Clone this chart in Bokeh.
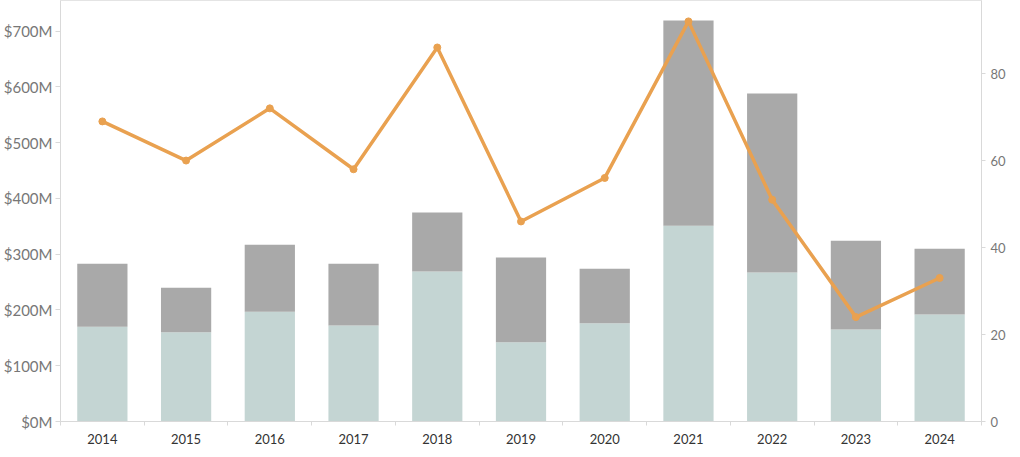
from bokeh.plotting import figure
from bokeh.models import Range1d, LinearAxis, FixedTicker, PrintfTickFormatter, ColumnDataSource
from bokeh.embed import file_html
from bokeh.resources import INLINE

years = [2014, 2015, 2016, 2017, 2018, 2019, 2020, 2021, 2022, 2023, 2024]
lower_m = [170, 160, 197, 172, 269, 142, 176, 351, 267, 165, 192]
upper_m = [113, 80, 120, 111, 106, 152, 98, 368, 321, 159, 118]
counts = [69, 60, 72, 58, 86, 46, 56, 92, 51, 24, 33]
left_ticks = [0, 100, 200, 300, 400, 500, 600, 700]
right_ticks = [0, 20, 40, 60, 80]

src = ColumnDataSource(dict(year=years, lower=lower_m, upper=upper_m, cnt=counts))

FONT = "Lato"
AXC = "#d9d9d9"

p = figure(frame_width=921, frame_height=421, output_backend="svg", toolbar_location=None,
           x_range=Range1d(2013.5, 2024.5), y_range=Range1d(0, 755),
           min_border_left=0, min_border_right=0, min_border_top=0, min_border_bottom=0)
p.extra_y_ranges = {"cnt": Range1d(0, 96.8)}
p.grid.visible = False
p.outline_line_color = "#e4e4e4"
p.background_fill_color = "white"
p.border_fill_color = "white"

p.vbar_stack(["lower", "upper"], x="year", width=0.6, color=["#c4d5d3", "#a9a9a9"],
             line_color=None, source=src)
p.line("year", "cnt", source=src, y_range_name="cnt", line_color="#e9a150", line_width=3.5)
p.scatter("year", "cnt", source=src, y_range_name="cnt", size=7, fill_color="#e9a150",
          line_color="#e9a150")

ra = LinearAxis(y_range_name="cnt")
p.add_layout(ra, "right")

la = p.left[0]
la.ticker = FixedTicker(ticks=left_ticks, minor_ticks=[])
la.formatter = PrintfTickFormatter(format="$%dM")
la.major_label_text_font = FONT
la.major_label_text_font_size = "15px"
la.major_label_text_color = "#777777"
la.axis_line_color = AXC
la.major_tick_line_color = AXC
la.major_tick_out = 5
la.major_tick_in = 0
la.major_label_standoff = 3

ra.ticker = FixedTicker(ticks=right_ticks, minor_ticks=[])
ra.major_label_text_font = FONT
ra.major_label_text_font_size = "13px"
ra.major_label_text_color = "#777777"
ra.axis_line_color = AXC
ra.major_tick_line_color = AXC
ra.major_tick_out = 4
ra.major_tick_in = 0
ra.major_label_standoff = 5

xa = p.below[0]
xa.ticker = FixedTicker(ticks=years, minor_ticks=[y - 0.5 for y in years] + [years[-1] + 0.5])
xa.formatter = PrintfTickFormatter(format="%d")
xa.major_tick_line_color = None
xa.minor_tick_line_color = AXC
xa.minor_tick_out = 4
xa.minor_tick_in = 0
xa.axis_line_color = AXC
xa.major_label_text_font = FONT
xa.major_label_text_font_size = "13px"
xa.major_label_text_color = "#333333"
xa.major_label_standoff = 6

open("out.html", "w").write(file_html(p, INLINE))
